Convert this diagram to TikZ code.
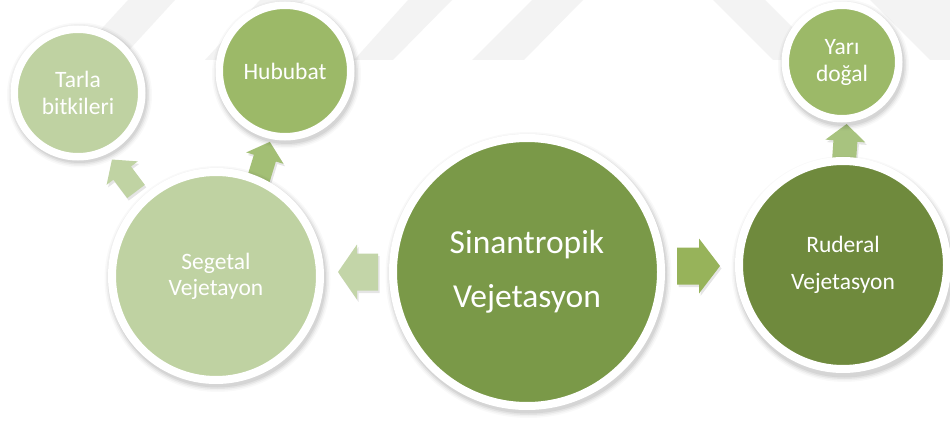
\documentclass[tikz,border=0pt]{standalone}
\usepackage{fontspec}
\setmainfont{Carlito}
\usetikzlibrary{calc}
\definecolor{cdark}{HTML}{6F8A3D}
\definecolor{cmain}{HTML}{7A9948}
\definecolor{cmid}{HTML}{9CB968}
\definecolor{clight}{HTML}{BFD2A2}
\definecolor{arrL}{HTML}{C3D5A8}
\definecolor{arrR}{HTML}{97B35A}
\definecolor{arrH}{HTML}{A3BF75}
\definecolor{arrY}{HTML}{A8C37F}
\definecolor{arrT}{HTML}{C0D3A3}
\definecolor{wm}{HTML}{F3F3F3}
\tikzset{
  bubble/.style={circle, draw=white, text=white, align=center, inner sep=0pt},
  wmark/.style={fill=wm},
}
% soft shadow under a circle: centre x, centre y, outer radius
\newcommand\softshadow[3]{%
  \foreach \d/\o in {5/0.025, 3.5/0.035, 2/0.05, 0.5/0.06}{%
    \fill[black, opacity=\o] (#1+1.5,#2+3) circle[radius={(#3+\d)*1pt}];}%
}
% block arrow: x, y, angle, length, head length, head width, shaft width, colour
\newcommand\blockarr[8]{%
  \begin{scope}[shift={(#1+1.5,#2+2.5)}, rotate=#3]
    \fill[black, opacity=0.10] ({-#4/2},{-#7/2}) -- ({#4/2-#5},{-#7/2}) -- ({#4/2-#5},{-#6/2})
      -- ({#4/2},0) -- ({#4/2-#5},{#6/2}) -- ({#4/2-#5},{#7/2}) -- ({-#4/2},{#7/2}) -- cycle;
  \end{scope}
  \begin{scope}[shift={(#1,#2)}, rotate=#3]
    \fill[#8] ({-#4/2},{-#7/2}) -- ({#4/2-#5},{-#7/2}) -- ({#4/2-#5},{-#6/2})
      -- ({#4/2},0) -- ({#4/2-#5},{#6/2}) -- ({#4/2-#5},{#7/2}) -- ({-#4/2},{#7/2}) -- cycle;
  \end{scope}%
}
\begin{document}
\begin{tikzpicture}[x=1pt, y=-1pt]
  \fill[white] (0,0) rectangle (950,422);
  \useasboundingbox (0,0) rectangle (950,422);
  % faint watermark stripes
  \fill[wmark] (73,60) -- (120,60) -- (175,0) -- (128,0) -- cycle;
  \fill[wmark] (205,60) -- (250,60) -- (305,0) -- (260,0) -- cycle;
  \fill[wmark] (354,60) -- (393,60) -- (452,0) -- (408,0) -- cycle;
  \fill[wmark] (472,60) -- (524,60) -- (583,0) -- (532,0) -- cycle;
  \fill[wmark] (713,0) -- (765,0) -- (825,60) -- (773,60) -- cycle;
  \fill[wmark] (870,0) -- (950,0) -- (950,60) -- (930,60) -- cycle;

  % block arrows
  \blockarr{358}{272}{180}{40}{19}{55}{37}{arrL}
  \blockarr{698.5}{266}{0}{43}{21}{55}{37}{arrR}
  \blockarr{124}{175.5}{127}{40}{17}{39}{22}{arrT}
  \blockarr{264}{161}{73}{40}{17}{39}{23}{arrH}
  \blockarr{845}{147}{86}{46}{17}{40}{24}{arrY}

  % shadows
  \softshadow{78}{92}{67.5}
  \softshadow{285}{71}{69.5}
  \softshadow{842}{62}{60.5}
  \softshadow{216}{276}{108}
  \softshadow{527}{272}{138}
  \softshadow{843}{266}{108}

  % circles
  \node[bubble, fill=clight, line width=7.5pt, minimum size=127.5pt,
        font=\fontsize{23.5}{27}\selectfont] (tarla) at (78,93) {Tarla\\bitkileri};
  \node[bubble, fill=cmid, line width=7.5pt, minimum size=131.5pt,
        font=\fontsize{23.5}{27}\selectfont] (hububat) at (285,71) {Hububat};
  \node[bubble, fill=cmid, line width=7.5pt, minimum size=113.5pt,
        font=\fontsize{23.5}{27}\selectfont] (yari) at (842,62) {Yarı\\doğal};
  \node[bubble, fill=clight, line width=8pt, minimum size=208pt,
        font=\fontsize{23.5}{26}\selectfont] (segetal) at (216,276) {Segetal\\Vejetayon};
  \node[bubble, fill=cmain, line width=8pt, minimum size=268pt,
        font=\fontsize{33.5}{54}\selectfont] (sin) at (527,272) {Sinantropik\\Vejetasyon};
  \node[bubble, fill=cdark, line width=8pt, minimum size=208pt,
        font=\fontsize{23.5}{37}\selectfont] (ruderal) at (843,265) {Ruderal\\Vejetasyon};
\end{tikzpicture}
\end{document}
